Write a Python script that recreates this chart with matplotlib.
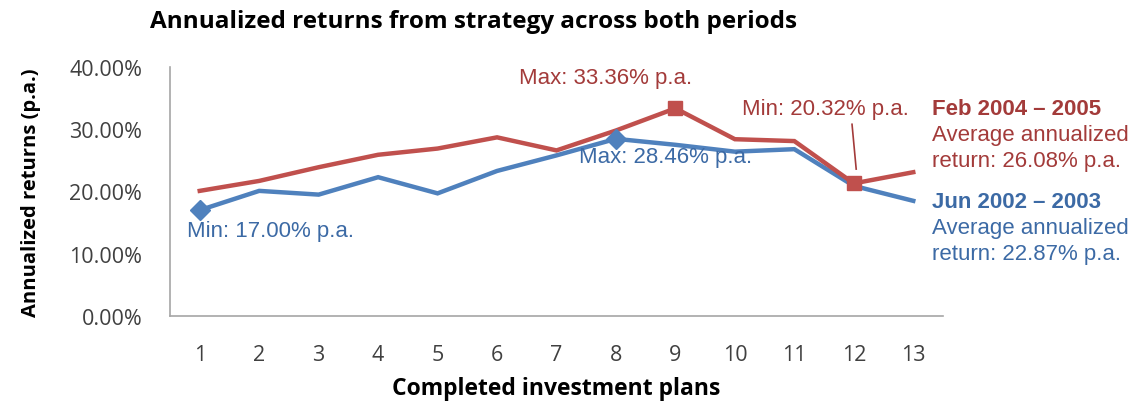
import numpy as np
import matplotlib
matplotlib.use('Agg')
import matplotlib.pyplot as plt
from matplotlib.ticker import PercentFormatter

# ── data ────────────────────────────────────────────────────────────────
plans = list(range(1, 14))
feb_2004_2005 = [20.1, 21.7, 23.9, 25.9, 26.9, 28.7, 26.6, 29.8, 33.36, 28.4, 28.1, 21.3, 23.1]
jun_2002_2003 = [17.0, 20.1, 19.5, 22.3, 19.7, 23.3, 25.8, 28.46, 27.5, 26.4, 26.8, 20.9, 18.5]
yticks = [0, 10, 20, 30, 40]

# ── style ───────────────────────────────────────────────────────────────
RED_LINE, BLUE_LINE = '#C0504D', '#4F81BD'
RED_TXT, BLUE_TXT = '#A33B3A', '#3C6AA5'
ARIAL = 'Liberation Sans'
CALIBRI = 'Open Sans'

fig = plt.figure(figsize=(11.44, 4.02), dpi=100)
ax = fig.add_axes([170/1144, 85/402, 773/1144, 249/402])

ax.plot(plans, feb_2004_2005, color=RED_LINE, lw=3.2, solid_joinstyle='miter', zorder=3)
ax.plot(plans, jun_2002_2003, color=BLUE_LINE, lw=3.2, solid_joinstyle='miter', zorder=2)

# highlighted min / max points
ax.plot([plans[8], plans[11]], [feb_2004_2005[8], feb_2004_2005[11]], 's',
        color=RED_LINE, ms=10, zorder=4)
ax.plot([plans[0], plans[7]], [jun_2002_2003[0], jun_2002_2003[7]], 'D',
        color=BLUE_LINE, ms=10, zorder=4)

ax.set_xlim(0.5, 13.5)
ax.set_ylim(0, 40)
ax.set_xticks(plans)
ax.set_yticks(yticks)
ax.yaxis.set_major_formatter(PercentFormatter(decimals=2))
ax.tick_params(length=0, labelsize=15.5, labelcolor='#404040')
ax.tick_params(axis='y', pad=20)
ax.tick_params(axis='x', pad=20)
for lab in ax.get_xticklabels() + ax.get_yticklabels():
    lab.set_fontfamily(CALIBRI)

for s in ['top', 'right']:
    ax.spines[s].set_visible(False)
for s in ['left', 'bottom']:
    ax.spines[s].set_color('#A6A6A6')
    ax.spines[s].set_linewidth(1.2)

ax.set_xlabel('Completed investment plans', fontsize=16.5, fontweight='bold',
              fontfamily=CALIBRI, labelpad=8)
ax.set_ylabel('Annualized returns (p.a.)', fontsize=14.5, fontweight='bold',
              fontfamily=CALIBRI, labelpad=20)
fig.text(474/1144, 1 - 28/402, 'Annualized returns from strategy across both periods',
         ha='center', va='baseline', fontsize=17.5, fontweight='bold', fontfamily=CALIBRI)

# ── annotations ─────────────────────────────────────────────────────────
kw = dict(fontsize=16, fontfamily=ARIAL, va='baseline', clip_on=False)
ax.text(7.82, 37.4, 'Max: 33.36% p.a.', color=RED_TXT, ha='center', **kw)
ax.text(11.52, 32.4, 'Min: 20.32% p.a.', color=RED_TXT, ha='center', **kw)
ax.plot([11.97, 12.04], [30.8, 23.6], color=RED_TXT, lw=1.2)
ax.text(8.83, 24.7, 'Max: 28.46% p.a.', color=BLUE_TXT, ha='center', **kw)
ax.text(0.78, 12.9, 'Min: 17.00% p.a.', color=BLUE_TXT, ha='left', **kw)

# right-hand period labels
x_r = 13.32
ax.text(x_r, 32.4, 'Feb 2004 \u2013 2005', color=RED_TXT, fontweight='bold', **kw)
ax.text(x_r, 28.2, 'Average annualized', color=RED_TXT, **kw)
ax.text(x_r, 24.1, 'return: 26.08% p.a.', color=RED_TXT, **kw)
ax.text(x_r, 17.5, 'Jun 2002 \u2013 2003', color=BLUE_TXT, fontweight='bold', **kw)
ax.text(x_r, 13.3, 'Average annualized', color=BLUE_TXT, **kw)
ax.text(x_r, 9.1, 'return: 22.87% p.a.', color=BLUE_TXT, **kw)

fig.savefig('out.png', dpi=100)
